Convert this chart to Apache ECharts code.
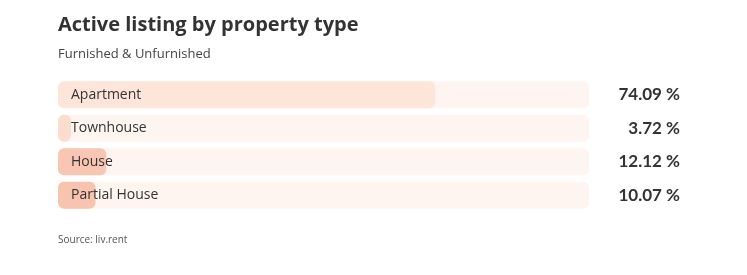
<!DOCTYPE html>
<html><head><meta charset="utf-8">
<script src="https://cdn.jsdelivr.net/npm/echarts@6/dist/echarts.min.js"></script>
<style>html,body{margin:0;padding:0;background:#fff}#c{width:747px;height:275px}</style>
</head><body><div id="c"></div>
<script>
const categories = ['Apartment', 'Townhouse', 'House', 'Partial House'];
const values = [74.09, 3.72, 12.12, 10.07];
const barColors = ['#fde5da', '#fcdccc', '#f8c6b3', '#f8c4b0'];

const chart = echarts.init(document.getElementById('c'));
chart.setOption({
  backgroundColor: '#ffffff',
  animation: false,
  title: [
    { text: 'Active listing by property type', subtext: 'Furnished & Unfurnished', left: 53, top: 10, itemGap: 13,
      textStyle: { fontFamily: 'Open Sans', fontSize: 20, fontWeight: 'bold', color: '#333' },
      subtextStyle: { fontFamily: 'Open Sans', fontSize: 13, color: '#444' } },
    { text: 'Source: liv.rent', left: 53, top: 230,
      textStyle: { fontFamily: 'Open Sans', fontSize: 10, fontWeight: 'normal', color: '#555' } }
  ],
  grid: { left: 58, right: 158, top: 78, height: 134, containLabel: false },
  xAxis: { type: 'value', min: 3, max: 103.1, startValue: 3, show: false },
  yAxis: [
    { type: 'category', data: categories, inverse: true, z: 10,
      axisLine: { show: false }, axisTick: { show: false },
      axisLabel: { inside: true, margin: 13, fontFamily: 'Open Sans', fontSize: 14, color: '#333' } },
    { type: 'category', data: values.map(v => v.toFixed(2) + ' %'), inverse: true, position: 'right',
      axisLine: { show: false }, axisTick: { show: false },
      axisLabel: { margin: 91, align: 'right', fontFamily: 'Lato', fontWeight: 'bold', fontSize: 17, color: '#333' } }
  ],
  series: [{
    type: 'bar', barWidth: 27, barMinHeight: 13,
    data: values.map((v, i) => ({ value: v, itemStyle: { color: barColors[i] } })),
    itemStyle: { borderRadius: 6 },
    showBackground: true,
    backgroundStyle: { color: '#fef5f0', borderRadius: 6 }
  }]
});
</script></body></html>
